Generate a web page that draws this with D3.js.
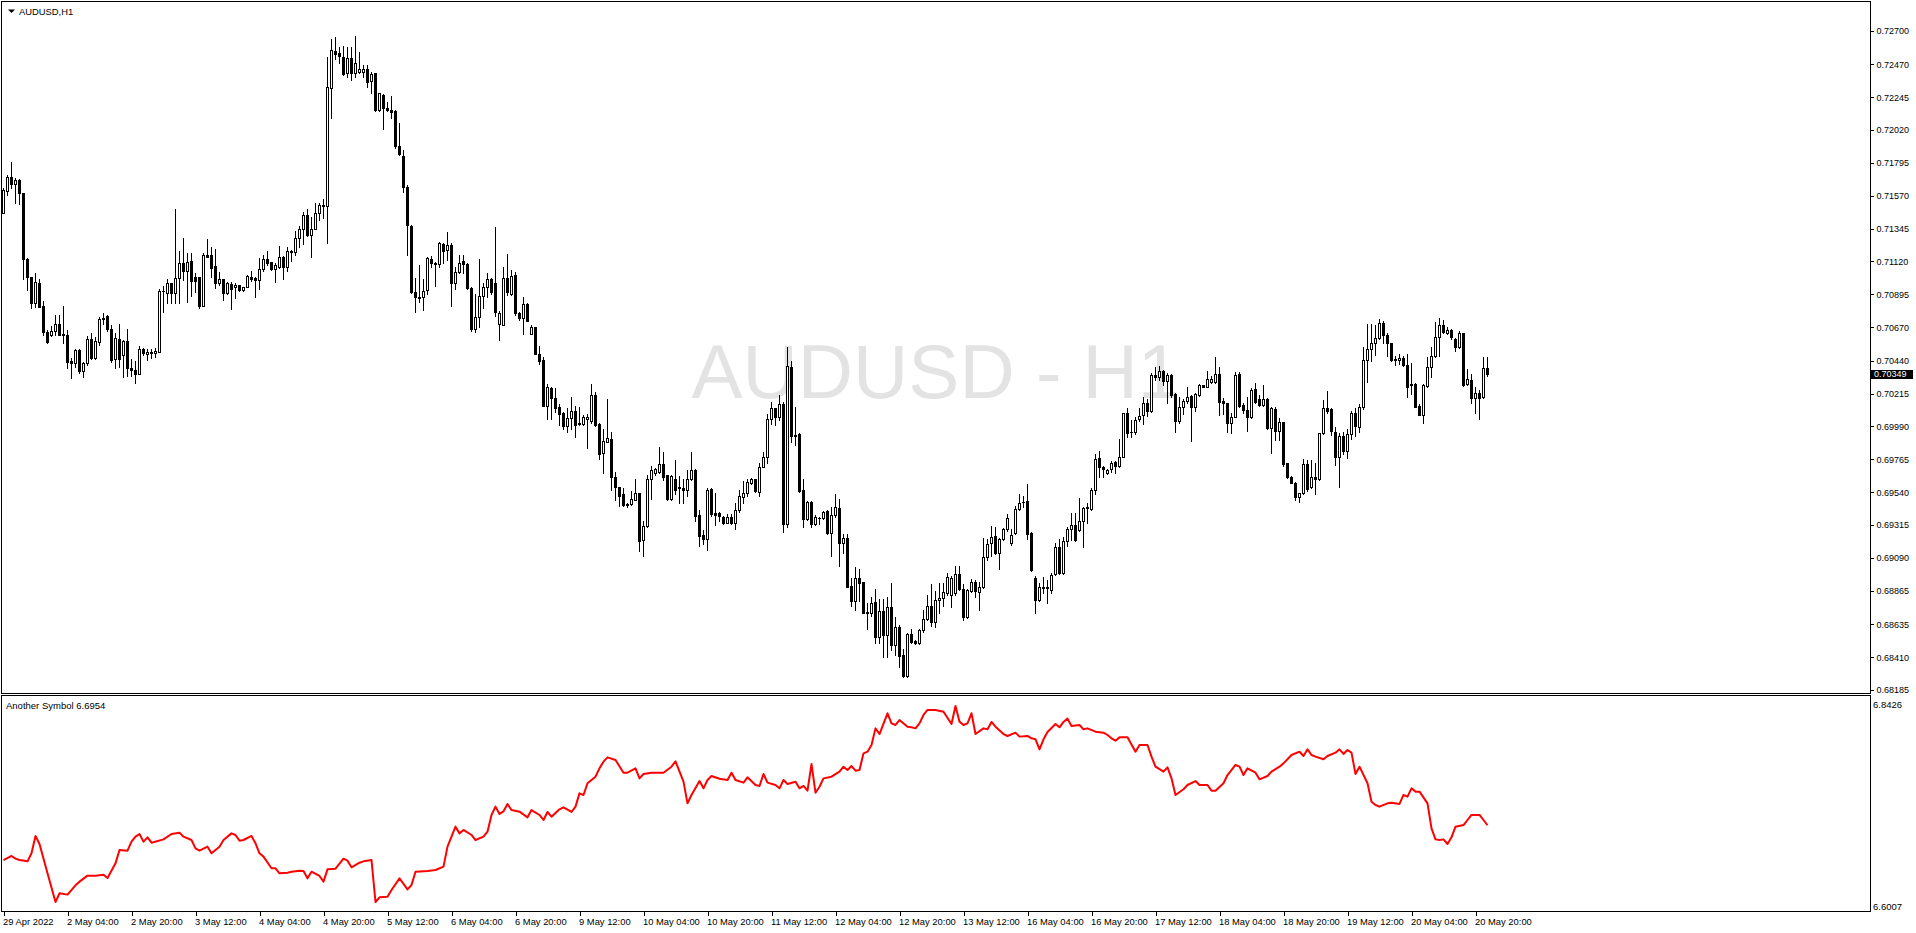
<!DOCTYPE html>
<html>
<head>
<meta charset="utf-8">
<script src="https://cdn.jsdelivr.net/npm/d3@7"></script>
<style>
  body { margin: 0; background: #fff; }
  text { font-family: "Liberation Sans", Arial, sans-serif; }
</style>
</head>
<body>
<svg id="chart"></svg>
<script>
// AUDUSD H1 bars, prices in 1e-5 (pipettes)
const openP = [
71453,71604,71695,71650,71677,71586,71138,71010,70832,70969,
70814,70638,70613,70641,70691,70622,70616,70440,70426,70513,
70371,70421,70586,70456,70570,70723,70746,70654,70449,70590,
70479,70574,70387,70376,70346,70517,70483,70495,70495,70501,
70915,70905,70969,70905,71004,71106,71056,71122,71015,71010,
70814,71163,71161,71088,70969,70997,70905,70963,70942,70958,
70924,70942,71010,71006,70992,71070,71134,71113,71065,71084,
71148,71079,71186,71182,71278,71339,71435,71298,71339,71453,
71499,71499,72305,72558,72545,72522,72408,72510,72408,72419,
72419,72435,72353,72408,72154,72261,72173,72160,72149,71913,
71844,71633,71363,70911,70876,70876,70923,71136,71112,71103,
71242,71195,71233,70973,71050,71121,71103,70941,70657,70737,
70881,70946,70997,70973,70691,70686,71004,70900,71027,70765,
70732,70830,70626,70668,70488,70448,70131,70256,70187,70125,
70085,69993,70049,70094,70013,70006,70039,70025,70205,70009,
69807,69885,69904,69645,69575,69529,69461,69461,69488,69533,
69209,69306,69627,69672,69677,69730,69654,69492,69627,69575,
69569,69553,69627,69691,69384,69244,69220,69562,69395,69395,
69373,69330,69373,69326,69418,69506,69533,69603,69627,69539,
69714,69782,70038,70113,70056,70143,69319,70399,69929,69935,
69554,69353,69472,69319,69365,69360,69410,69257,69383,69429,
69189,69223,68897,68796,68949,68924,68719,68710,68787,68550,
68728,68561,68755,68493,68618,68424,68280,68568,68522,68504,
68595,68673,68760,68652,68801,68812,68846,68835,68846,68979,
68874,68687,68865,68926,68858,68888,69098,69189,69239,69125,
69221,69285,69193,69257,69422,69474,69477,69262,68949,68801,
68888,68881,68869,68979,69161,68983,69207,69285,69314,69280,
69344,69429,69422,69554,69771,69714,69673,69696,69748,69719,
69782,70079,69954,69954,70038,70068,70153,70098,70342,70331,
70367,70303,70342,70210,70030,70121,70167,70199,70125,70205,
70272,70262,70297,70294,70349,70167,70148,70016,70052,70349,
70137,70103,70052,70244,70176,70137,70176,69979,70112,69961,
70020,69737,69646,69605,69509,69532,69733,69578,69646,69632,
69943,70114,70107,69954,69783,69925,69824,69938,70080,69988,
70121,70445,70518,70564,70593,70701,70619,70559,70450,70445,
70456,70411,70281,70281,70130,70071,70267,70395,70472,70600,
70687,70632,70651,70587,70532,70628,70281,70308,70183,70221,
70189,70388];

const highP = [
71620,71711,71798,71689,71682,71590,71143,71015,71043,70999,
70851,70650,70677,70752,70752,70814,70650,70456,70517,70517,
70433,70609,70627,70604,70737,70764,70752,70684,70627,70691,
70581,70654,70449,70440,70540,70524,70517,70517,70524,70928,
70951,71001,70974,71476,71193,71278,71180,71180,71043,71015,
71180,71271,71216,71202,71049,70997,70979,70981,70969,70958,
70947,71027,71056,71015,71143,71163,71193,71118,71106,71225,
71157,71221,71198,71330,71362,71458,71481,71426,71517,71522,
71545,72522,72643,72659,72590,72595,72590,72590,72663,72556,
72465,72465,72419,72412,72274,72265,72214,72256,72154,72068,
71884,71640,71366,71004,71096,70997,71150,71159,71115,71250,
71247,71321,71247,71085,71166,71166,71108,70945,70895,71136,
70973,71043,71004,71358,70779,71085,71173,71062,71050,70772,
70877,70833,70686,70671,70540,70464,70279,70262,70251,70147,
70091,70118,70194,70131,70125,70071,70078,70279,70228,70016,
69974,70177,69955,69678,69578,69569,69465,69545,69631,69536,
69344,69654,69719,69707,69852,69815,69657,69654,69760,69649,
69631,69691,69815,69696,69418,69279,69569,69569,69533,69407,
69377,69391,69391,69468,69557,69614,69627,69637,69630,69741,
69817,70075,70159,70116,70205,70159,70536,70440,70120,69942,
69627,69477,69477,69381,69372,69413,69417,69440,69527,69490,
69253,69253,68949,69024,69011,68926,68778,68824,68874,68805,
68805,68824,68920,68682,68627,68463,68577,68600,68527,68600,
68732,68835,68910,68865,68915,68920,68983,68965,69034,69034,
68910,68878,68942,68938,68926,69223,69216,69308,69298,69225,
69292,69390,69285,69445,69527,69513,69595,69267,68965,68915,
68956,68938,68983,69189,69216,69230,69298,69399,69399,69497,
69440,69467,69566,69801,69824,69719,69696,69755,69755,69901,
70084,70113,70034,70052,70113,70189,70176,70358,70399,70404,
70377,70358,70349,70217,70189,70176,70258,70205,70221,70281,
70276,70372,70335,70463,70399,70183,70153,70080,70365,70365,
70153,70189,70251,70290,70205,70274,70183,70121,70121,70046,
70023,69742,69651,69612,69536,69765,69760,69760,69737,69947,
70171,70235,70114,69988,69947,69954,69970,70098,70114,70144,
70532,70692,70692,70685,70724,70714,70628,70564,70472,70486,
70472,70486,70422,70290,70144,70281,70468,70532,70708,70730,
70719,70673,70655,70593,70641,70632,70381,70349,70258,70240,
70463,70463];

const lowP = [
71449,71574,71620,71517,71510,70997,70924,70798,70805,70805,
70616,70563,70609,70616,70615,70563,70387,70319,70399,70353,
70330,70410,70449,70449,70547,70691,70645,70433,70387,70399,
70330,70335,70335,70289,70346,70479,70444,70456,70467,70501,
70775,70837,70837,70837,70837,70992,70844,70883,70912,70798,
70814,71152,71010,70935,70958,70855,70896,70791,70867,70919,
70919,70942,70988,70878,70928,71056,71095,71061,70981,71072,
70997,71056,71125,71164,71221,71239,71294,71148,71339,71403,
71417,71248,72100,72504,72481,72399,72380,72362,72380,72408,
72380,72316,72275,72150,72149,72029,72149,72099,71895,71848,
71594,71166,70904,70773,70841,70784,70899,71085,70951,71085,
71112,71131,70818,70934,71043,71038,70934,70645,70634,70668,
70802,70876,70899,70749,70580,70683,70888,70888,70756,70718,
70626,70709,70623,70485,70418,70128,70038,70043,70091,69997,
69970,69955,69974,69916,69997,69997,69839,70016,69993,69766,
69669,69882,69557,69483,69446,69446,69441,69453,69483,69135,
69106,69303,69492,69654,69672,69622,69488,69483,69529,69465,
69465,69515,69624,69345,69168,69182,69141,69377,69314,69345,
69321,69326,69321,69289,69407,69468,69511,69598,69539,69515,
69709,69737,70006,70000,70034,69269,69303,69885,69862,69543,
69298,69349,69298,69312,69321,69356,69253,69102,69372,69034,
69125,68888,68760,68732,68796,68710,68600,68691,68509,68504,
68413,68413,68458,68424,68344,68276,68276,68509,68499,68499,
68584,68664,68623,68618,68714,68760,68835,68755,68835,68869,
68664,68675,68858,68824,68732,68881,69075,69102,69116,69011,
69212,69271,69177,69253,69417,69435,69216,69002,68714,68796,
68851,68778,68851,68972,68979,68979,69171,69212,69207,69276,
69166,69330,69417,69527,69646,69641,69664,69680,69673,69714,
69778,69915,69915,69938,70029,70007,70061,70091,70308,70308,
70274,70153,70194,69954,70016,70075,70153,69893,70098,70199,
70258,70258,70290,70290,70068,70075,69954,69947,70052,70125,
70084,69961,70046,70153,70130,70130,69970,69810,69897,69897,
69719,69635,69600,69486,69475,69527,69550,69566,69527,69623,
69938,70080,69931,69726,69578,69801,69772,69902,69925,69954,
70107,70297,70440,70479,70587,70564,70472,70440,70411,70418,
70404,70194,70212,70121,70068,70016,70258,70331,70463,70472,
70632,70623,70587,70509,70525,70267,70274,70148,70080,70039,
70183,70335];

const closeP = [
71609,71695,71650,71677,71586,71134,71015,70832,70979,70810,
70638,70570,70641,70691,70618,70618,70433,70426,70513,70371,
70421,70586,70456,70572,70723,70734,70654,70444,70593,70449,
70574,70387,70376,70348,70517,70490,70501,70499,70504,70915,
70919,70969,70905,71004,71106,71056,71116,70988,70983,70814,
71163,71152,71072,70969,70997,70901,70969,70933,70958,70924,
70942,71020,71001,70992,71065,71134,71111,71065,71093,71148,
71079,71193,71193,71278,71344,71435,71298,71339,71453,71504,
71506,72312,72568,72540,72526,72403,72510,72408,72476,72435,
72435,72351,72403,72157,72270,72173,72158,72145,71913,71853,
71628,71367,70911,70876,70871,70919,71141,71112,71103,71247,
71189,71235,70969,71047,71112,71103,70941,70657,70737,70881,
70946,70997,70908,70773,70765,71004,70911,71020,70765,70732,
70830,70714,70672,70488,70441,70131,70262,70187,70118,70078,
69993,70049,70099,70002,70006,70055,70055,70205,69997,69801,
69892,69908,69645,69575,69515,69453,69453,69492,69533,69205,
69306,69631,69691,69701,69730,69645,69492,69649,69557,69566,
69553,69627,69691,69378,69242,69220,69557,69391,69382,69377,
69330,69368,69326,69418,69511,69533,69607,69627,69546,69713,
69782,70038,70113,70052,70143,69319,70403,69924,69924,69550,
69353,69472,69319,69372,69360,69403,69257,69383,69435,69189,
69223,68892,68796,68949,68915,68714,68710,68782,68550,68728,
68561,68755,68493,68618,68417,68280,68568,68515,68504,68595,
68673,68760,68652,68801,68812,68856,68956,68949,68979,68874,
68687,68869,68926,68865,68892,69098,69182,69235,69125,69216,
69285,69360,69246,69422,69467,69470,69253,69006,68801,68888,
68881,68888,68972,69161,68983,69207,69285,69314,69212,69344,
69429,69435,69554,69764,69714,69696,69691,69741,69719,69782,
70079,69947,69954,70034,70061,70148,70098,70342,70326,70367,
70303,70342,70205,70030,70121,70167,70194,70125,70212,70276,
70262,70313,70315,70349,70160,70148,70016,70052,70342,70130,
70103,70052,70240,70160,70137,70176,69979,70114,69961,70020,
69733,69646,69605,69509,69532,69733,69564,69641,69632,69943,
70114,70098,69961,69783,69925,69824,69938,70080,69993,70121,
70445,70518,70564,70593,70701,70619,70559,70445,70445,70456,
70411,70262,70272,70125,70071,70274,70395,70472,70600,70687,
70639,70651,70600,70536,70628,70274,70313,70183,70221,70183,
70388,70349];

const priceTicks = [0.72700, 0.72470, 0.72245, 0.72020, 0.71795, 0.71570, 0.71345,
  0.71120, 0.70895, 0.70670, 0.70440, 0.70215, 0.69990, 0.69765, 0.69540,
  0.69315, 0.69090, 0.68865, 0.68635, 0.68410, 0.68185];

const timeLabels = ["29 Apr 2022", "2 May 04:00", "2 May 20:00", "3 May 12:00", "4 May 04:00",
  "4 May 20:00", "5 May 12:00", "6 May 04:00", "6 May 20:00", "9 May 12:00", "10 May 04:00",
  "10 May 20:00", "11 May 12:00", "12 May 04:00", "12 May 20:00", "13 May 12:00",
  "16 May 04:00", "16 May 20:00", "17 May 12:00", "18 May 04:00", "18 May 20:00",
  "19 May 12:00", "20 May 04:00", "20 May 20:00"];
const barsPerLabel = 16;

// second symbol: bar index + value
const otherIdx = [0,2,3,4,6,7,8,9,11,13,14,16,18,19,21,23,25,26,28,29,31,32,33,34,35,36,37,40,42,44,
  45,47,48,49,51,52,54,55,57,58,59,60,62,63,64,65,67,68,69,71,72,74,75,76,77,79,80,81,83,85,
  86,87,89,90,92,93,94,96,97,99,101,102,103,106,108,110,111,113,114,115,117,118,120,121,122,123,124,125,126,127,
  129,131,132,134,135,136,137,139,140,142,143,144,145,146,148,149,150,151,153,155,156,158,159,160,162,165,167,168,170,171,
  172,174,175,176,177,179,181,182,183,185,186,188,189,190,191,193,194,195,196,198,199,200,201,202,203,204,205,207,209,210,
  211,212,213,214,215,216,217,218,219,221,222,223,224,226,227,228,229,230,231,233,235,237,238,239,240,241,242,243,245,246,
  247,248,250,251,253,254,256,257,258,259,260,261,263,264,265,266,267,269,270,271,273,275,276,277,278,279,281,283,284,286,
  287,288,290,291,292,293,295,296,298,299,301,302,303,305,306,308,309,310,311,313,314,316,317,319,320,322,324,325,326,327,
  328,330,331,333,334,335,336,337,338,339,341,342,343,344,346,347,349,350,351,352,353,354,356,357,358,359,360,361,362,363,
  365,366,367,369,370,371];
const otherVal = [6.6525,6.6575,6.6542,6.6525,6.6509,6.6608,6.6822,6.6723,6.6361,6.6007,6.6114,6.6098,6.6213,6.6258,6.6332,6.6332,6.6344,6.6303,6.6484,6.6649,6.6641,6.6752,6.6813,6.6846,6.6752,6.6805,6.6739,6.6780,6.6846,6.6863,
  6.6813,6.6772,6.6669,6.6641,6.6690,6.6608,6.6690,6.6772,6.6854,6.6834,6.6764,6.6772,6.6822,6.6731,6.6608,6.6567,6.6423,6.6423,6.6361,6.6369,6.6381,6.6394,6.6390,6.6299,6.6381,6.6328,6.6258,6.6410,6.6418,6.6542,
  6.6517,6.6435,6.6492,6.6509,6.6525,6.6007,6.6065,6.6073,6.6155,6.6299,6.6163,6.6217,6.6381,6.6390,6.6402,6.6443,6.6690,6.6937,6.6854,6.6896,6.6834,6.6772,6.6813,6.6875,6.7081,6.7184,6.7093,6.7126,6.7217,6.7142,
  6.7122,6.7052,6.7142,6.7081,6.7019,6.7118,6.7060,6.7151,6.7175,6.7118,6.7184,6.7348,6.7328,6.7472,6.7554,6.7657,6.7739,6.7792,6.7760,6.7603,6.7603,6.7657,6.7533,6.7587,6.7603,6.7603,6.7677,6.7743,6.7492,6.7225,
  6.7328,6.7500,6.7410,6.7513,6.7562,6.7529,6.7513,6.7603,6.7513,6.7480,6.7546,6.7451,6.7439,6.7587,6.7480,6.7451,6.7410,6.7513,6.7463,6.7492,6.7410,6.7439,6.7381,6.7710,6.7356,6.7430,6.7533,6.7554,6.7616,6.7677,
  6.7636,6.7685,6.7628,6.7636,6.7842,6.7862,6.7945,6.8150,6.8080,6.8336,6.8212,6.8192,6.8253,6.8171,6.8163,6.8150,6.8212,6.8315,6.8377,6.8377,6.8356,6.8204,6.8426,6.8233,6.8192,6.8212,6.8336,6.8080,6.8150,6.8138,
  6.8229,6.8171,6.8080,6.8056,6.8097,6.8048,6.8056,6.8027,6.8015,6.7891,6.8015,6.8105,6.8204,6.8163,6.8229,6.8270,6.8179,6.8192,6.8138,6.8150,6.8109,6.8097,6.8068,6.8027,6.7998,6.8039,6.8039,6.7862,6.7945,6.7945,
  6.7801,6.7677,6.7616,6.7669,6.7533,6.7328,6.7398,6.7451,6.7500,6.7451,6.7451,6.7381,6.7381,6.7472,6.7574,6.7698,6.7677,6.7574,6.7657,6.7603,6.7521,6.7562,6.7616,6.7677,6.7718,6.7821,6.7862,6.7809,6.7891,6.7821,
  6.7801,6.7768,6.7809,6.7850,6.7891,6.7834,6.7883,6.7850,6.7587,6.7677,6.7472,6.7245,6.7204,6.7184,6.7225,6.7233,6.7217,6.7328,6.7307,6.7410,6.7369,6.7369,6.7225,6.6916,6.6780,6.6772,6.6780,6.6723,6.6805,6.6937,
  6.6957,6.7019,6.7081,6.7081,6.7019,6.6954];

const symbol = "AUDUSD", period = "H1";
const lastPrice = 0.70349;
const otherName = "Another Symbol", otherLast = 6.6954;
const otherMin = 6.6007, otherMax = 6.8426;

const W = 1916, H = 933;
const font = "'Liberation Sans', Arial, sans-serif";

const svg = d3.select("#chart").attr("width", W).attr("height", H);
svg.append("rect").attr("width", W).attr("height", H).attr("fill", "#fff");

// 4 px per bar, bars start at the left edge
const x = d3.scaleLinear().domain([0, 467]).range([3.5, 1871.5]);
const y = d3.scaleLinear().domain([0.68185, 0.72700]).range([690, 30.7]);
const y2 = d3.scaleLinear().domain([otherMin, otherMax]).range([902, 706]);

// watermark
svg.append("text")
  .attr("x", 936).attr("y", 398)
  .attr("text-anchor", "middle")
  .attr("font-size", "76.5px")
  .attr("fill", "#e3e3e3")
  .text(symbol + " - " + period);

const bars = d3.range(openP.length).map(i => ({
  i, o: openP[i] / 1e5, h: highP[i] / 1e5, l: lowP[i] / 1e5, c: closeP[i] / 1e5
}));

const candles = svg.append("g").attr("shape-rendering", "crispEdges");

candles.selectAll("line.wick")
  .data(bars)
  .join("line")
    .attr("class", "wick")
    .attr("x1", d => x(d.i)).attr("x2", d => x(d.i))
    .attr("y1", d => Math.round(y(Math.max(d.h, d.o, d.c))))
    .attr("y2", d => Math.round(y(Math.min(d.l, d.o, d.c))) + 1)
    .attr("stroke", "#000");

candles.selectAll("rect.body")
  .data(bars)
  .join("rect")
    .attr("class", "body")
    .attr("x", d => x(d.i) - 1)
    .attr("y", d => Math.round(y(Math.max(d.o, d.c))) + 0.5)
    .attr("width", 2)
    .attr("height", d => Math.max(0.01, Math.round(y(Math.min(d.o, d.c))) - Math.round(y(Math.max(d.o, d.c)))))
    .attr("fill", d => d.c >= d.o ? "#fff" : "#000")
    .attr("stroke", "#000");

// panel frames
svg.append("rect").attr("x", 1.5).attr("y", 1.5).attr("width", 1869).attr("height", 692)
  .attr("fill", "none").attr("stroke", "#000").attr("shape-rendering", "crispEdges");
svg.append("rect").attr("x", 1.5).attr("y", 695.5).attr("width", 1869).attr("height", 216)
  .attr("fill", "none").attr("stroke", "#000").attr("shape-rendering", "crispEdges");

// title
svg.append("path").attr("d", "M8,9.5 L15,9.5 L11.5,13 Z").attr("fill", "#000");
svg.append("text").attr("x", 19).attr("y", 14.5).attr("font-size", "9.4px").attr("fill", "#000")
  .text(symbol + "," + period);

// price axis
const yAxis = d3.axisRight(y)
  .tickValues(priceTicks)
  .tickSize(3)
  .tickPadding(3)
  .tickFormat(d3.format(".5f"));

svg.append("g")
  .attr("transform", "translate(1870.5,0)")
  .call(yAxis)
  .call(g => g.select(".domain").remove())
  .call(g => g.selectAll("line").attr("stroke", "#000").attr("shape-rendering", "crispEdges"))
  .attr("font-family", font)
  .attr("font-size", 9);

// current price marker
svg.append("rect").attr("x", 1871).attr("y", Math.round(y(lastPrice)) - 4).attr("width", 42).attr("height", 9)
  .attr("fill", "#000");
svg.append("text").attr("x", 1874).attr("y", y(lastPrice) + 3.3)
  .attr("font-size", "9px").attr("fill", "#fff").text(lastPrice.toFixed(5));

// second panel
svg.append("clipPath").attr("id", "subclip")
  .append("rect").attr("x", 2).attr("y", 696).attr("width", 1868).attr("height", 215);

const otherPts = otherIdx.map((d, k) => ({ i: d, v: otherVal[k] }));
svg.append("path")
  .datum(otherPts)
  .attr("clip-path", "url(#subclip)")
  .attr("fill", "none")
  .attr("stroke", "#ff0000")
  .attr("stroke-width", 2)
  .attr("stroke-linejoin", "round")
  .attr("d", d3.line().x(d => x(d.i)).y(d => y2(d.v)));

svg.append("text").attr("x", 6).attr("y", 708.5).attr("font-size", "9.5px").attr("fill", "#000")
  .text(otherName + " " + otherLast.toFixed(4));

svg.append("text").attr("x", 1873).attr("y", 707.5).attr("font-size", "9.5px").attr("fill", "#000")
  .text(otherMax.toFixed(4));
svg.append("text").attr("x", 1873).attr("y", 909.5).attr("font-size", "9.5px").attr("fill", "#000")
  .text(otherMin.toFixed(4));

// time axis
const tAxis = d3.axisBottom(x)
  .tickValues(timeLabels.map((d, k) => k * barsPerLabel))
  .tickFormat((d, k) => timeLabels[k])
  .tickSize(4)
  .tickPadding(3);

svg.append("g")
  .attr("transform", "translate(0,911.5)")
  .call(tAxis)
  .call(g => g.select(".domain").remove())
  .call(g => g.selectAll("line").attr("stroke", "#000").attr("shape-rendering", "crispEdges"))
  .attr("font-family", font)
  .attr("font-size", 9.4)
  .call(g => g.selectAll("text").attr("text-anchor", "start").attr("x", -1));
</script>
</body>
</html>
